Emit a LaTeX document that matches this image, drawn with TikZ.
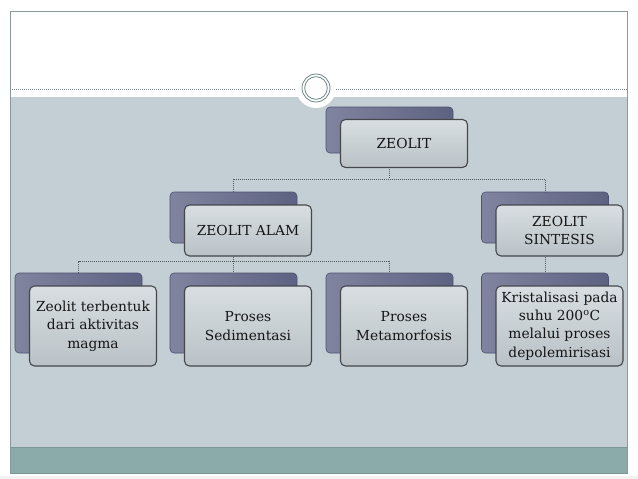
\documentclass[tikz,border=0pt]{standalone}
\usepackage{fontspec}
\setmainfont{DejaVu Serif}
\begin{document}
\begin{tikzpicture}[x=1pt,y=-1pt,
  backbox/.style={rectangle, rounded corners=4pt, minimum width=127pt, inner sep=0pt,
    draw=backedge, line width=0.6pt, left color=backlight, right color=backdark},
  frontbox/.style={rectangle, rounded corners=5pt, minimum width=127pt, inner sep=0pt,
    draw=frontedge, line width=1.1pt, top color=fronttop, bottom color=frontbot,
    align=center, font=\fontsize{13.8}{18.3}\selectfont, text=textcol},
  link/.style={draw=linkcol, line width=0.8pt, dash pattern=on 1pt off 1pt},
  frameline/.style={draw=framecol, line width=0.8pt}
]
\definecolor{backlight}{HTML}{80849F}
\definecolor{backdark}{HTML}{5E6282}
\definecolor{backedge}{HTML}{4E5270}
\definecolor{frontedge}{HTML}{45474B}
\definecolor{fronttop}{HTML}{D8DEE1}
\definecolor{frontbot}{HTML}{BAC2C7}
\definecolor{textcol}{HTML}{151515}
\definecolor{linkcol}{HTML}{4F595E}
\definecolor{framecol}{HTML}{8A9A9B}
\definecolor{bandgray}{HTML}{C4CFD5}
\definecolor{bandteal}{HTML}{8AABAA}
\definecolor{tealedge}{HTML}{7A9898}
\definecolor{ringcol}{HTML}{6F8585}
\useasboundingbox (0,0) rectangle (638,479);
\fill[white] (0,0) rectangle (638,479);
\fill[black!5] (0,476) rectangle (638,479);
% bands
\fill[bandgray] (10,97) rectangle (627,447);
\filldraw[fill=bandteal, draw=tealedge, line width=0.6pt] (10,447) rectangle (627,473);
% frame
\draw[frameline] (10,473) -- (10,11) -- (627,11) -- (627,473);
\draw[draw=framecol!90!black, line width=0.7pt, dash pattern=on 1pt off 1pt] (10,89) -- (627,89);
% circle ornament
\fill[white] (316,88) circle (20);
\draw[draw=ringcol, line width=0.8pt] (316,88) circle (14);
\draw[draw=ringcol, line width=0.8pt] (316,88) circle (11.3);
% back boxes
\node[backbox, minimum height=46pt] (b0) at (389.5,130) {};
\node[backbox, minimum height=51pt] (b1) at (233.5,217.5) {};
\node[backbox, minimum height=51pt] (b2) at (545,217.5) {};
\node[backbox, minimum height=80pt] (c1) at (78.5,313) {};
\node[backbox, minimum height=80pt] (c2) at (233.5,313) {};
\node[backbox, minimum height=80pt] (c3) at (389.5,313) {};
\node[backbox, minimum height=80pt] (c4) at (545,313) {};
% connectors
\coordinate (j1) at (389.5,179);
\coordinate (j2) at (233.5,261);
\draw[link] (b0.south) -- (j1) -| (b1.north);
\draw[link] (j1) -| (b2.north);
\draw[link] (b1.south) -- (j2) -| (c1.north);
\draw[link] (j2) -- (c2.north);
\draw[link] (j2) -| (c3.north);
\draw[link] (b2.south) -- (c4.north);
% front boxes
\node[frontbox, minimum height=48pt] (f0) at (404,143.5) {ZEOLIT};
\node[frontbox, minimum height=51pt] (f1) at (248,230.5) {ZEOLIT ALAM};
\node[frontbox, minimum height=51pt] (f2) at (559.5,230.5) {ZEOLIT\\SINTESIS};
\node[frontbox, minimum height=80pt] (g1) at (93,326) {Zeolit terbentuk\\dari aktivitas\\magma};
\node[frontbox, minimum height=80pt] (g2) at (248,326) {Proses\\Sedimentasi};
\node[frontbox, minimum height=80pt] (g3) at (404,326) {Proses\\Metamorfosis};
\node[frontbox, minimum height=80pt] (g4) at (559.5,326) {Kristalisasi pada\\suhu 200\textsuperscript{o}C\\melalui proses\\depolemirisasi};
\end{tikzpicture}
\end{document}
